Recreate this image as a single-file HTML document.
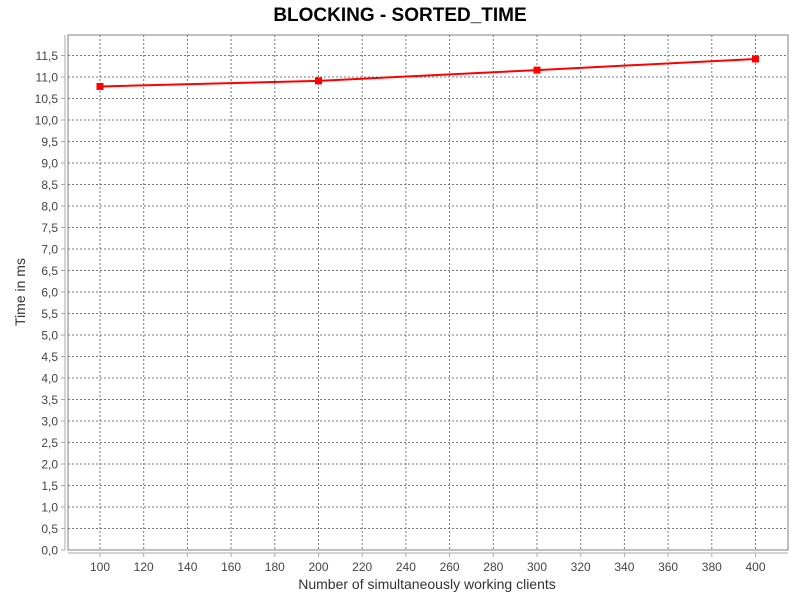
<!DOCTYPE html>
<html><head><meta charset="utf-8"><style>
body{margin:0;background:#fff;font-family:"Liberation Sans",sans-serif}
</style></head><body>
<svg id="c" width="800" height="600" xmlns="http://www.w3.org/2000/svg">
<rect width="800" height="600" fill="#fff"/>
<text x="400" y="21" text-anchor="middle" font-size="19" font-weight="bold" font-family="Liberation Sans, sans-serif">BLOCKING - SORTED_TIME</text>
<rect x="68" y="35" width="720" height="515" fill="#fff" stroke="#808080" stroke-width="1"/>
<g id="grid"></g><g id="axes"></g><g id="series"></g>
<text x="427" y="589" text-anchor="middle" font-size="14" fill="#333">Number of simultaneously working clients</text>
<text transform="translate(25,292) rotate(-90)" text-anchor="middle" font-size="14" fill="#333">Time in ms</text>
</svg>
<script>
const categories=[100,200,300,400];
const values=[10.78,10.91,11.16,11.42];
const xTicks=[100,120,140,160,180,200,220,240,260,280,300,320,340,360,380,400];
const yTicks=[0,0.5,1,1.5,2,2.5,3,3.5,4,4.5,5,5.5,6,6.5,7,7.5,8,8.5,9,9.5,10,10.5,11,11.5];
const NS="http://www.w3.org/2000/svg";
const X=v=>100+(v-100)*(655.5/300);
const Y=v=>550-v*43;
function mk(t,a,p){const e=document.createElementNS(NS,t);for(const k in a)e.setAttribute(k,a[k]);p.appendChild(e);return e;}
const g=document.getElementById('grid'),ax=document.getElementById('axes'),s=document.getElementById('series');
mk('line',{x1:65,y1:35,x2:65,y2:550,stroke:'#aaa'},ax);
mk('line',{x1:68,y1:553,x2:788,y2:553,stroke:'#aaa'},ax);
yTicks.forEach(v=>{const y=Y(v);
 if(v>0){const l=mk('line',{x1:68,y1:y,x2:788,y2:y,stroke:'#777','stroke-dasharray':'2,2','stroke-width':1},g);
 }
 mk('line',{x1:61,y1:y,x2:65,y2:y,stroke:'#aaa'},ax);
 const t=mk('text',{x:58,y:y+4.5,'text-anchor':'end','font-size':12,fill:'#444'},ax);
 t.textContent=v.toFixed(1).replace('.',',');
 });
xTicks.forEach(v=>{const x=X(v);
 const l=mk('line',{x1:x,y1:35,x2:x,y2:550,stroke:'#777','stroke-dasharray':'2,2','stroke-width':1},g);
 
 mk('line',{x1:x,y1:553,x2:x,y2:557,stroke:'#aaa'},ax);
 const t=mk('text',{x:x,y:571,'text-anchor':'middle','font-size':12,fill:'#444'},ax);
 t.textContent=v;
 });
const pl=mk('polyline',{points:categories.map((c,i)=>X(c)+','+Y(values[i])).join(' '),fill:'none',stroke:'#f00','stroke-width':2},s);

categories.forEach((c,i)=>{const r=mk('rect',{x:X(c)-3.5,y:Y(values[i])-3.5,width:7,height:7,fill:'#f00'},s);
 });
</script>
</body></html>
